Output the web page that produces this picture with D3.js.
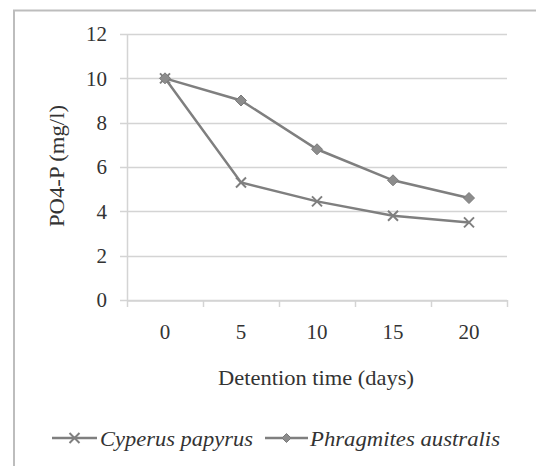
<!DOCTYPE html>
<html>
<head>
<meta charset="utf-8">
<script src="https://cdn.jsdelivr.net/npm/d3@7"></script>
<style>
  body { margin: 0; background: #fff; }
</style>
</head>
<body>
<svg width="536" height="466"></svg>
<script>
var days = ["0", "5", "10", "15", "20"];
var cyperus = [10, 5.3, 4.45, 3.8, 3.5];
var phragmites = [10, 9, 6.8, 5.4, 4.6];
var yTicks = [0, 2, 4, 6, 8, 10, 12];
var seriesNames = ["Cyperus papyrus", "Phragmites australis"];

var svg = d3.select("svg");
var lineColor = "#7f7f7f",
	gridColor = "#d4d4d4",
	textColor = "#333333",
	serif = "'Liberation Serif', 'Times New Roman', serif";

// outer frame (only left and top visible)
svg.append("path")
	.attr("d", "M14,470 L14,10.5 L540,10.5")
	.attr("fill", "none")
	.attr("stroke", "#bdbdbd")
	.attr("stroke-width", 2);

var x = d3.scaleBand().domain(days).range([127, 507]);
var y = d3.scaleLinear().domain([0, 12]).range([300, 34]);

// grid
svg.append("g").selectAll("line")
	.data(yTicks)
	.join("line")
	.attr("x1", 120).attr("x2", 507)
	.attr("y1", d => Math.round(y(d)) + 0.5)
	.attr("y2", d => Math.round(y(d)) + 0.5)
	.attr("stroke", gridColor)
	.attr("stroke-width", 1.5);

// y axis line
svg.append("line")
	.attr("x1", 127.5).attr("x2", 127.5)
	.attr("y1", 34).attr("y2", 300)
	.attr("stroke", gridColor).attr("stroke-width", 1.5);

// x axis
var xAxis = svg.append("g")
	.attr("transform", "translate(0,300.5)")
	.call(d3.axisBottom(x).tickSize(0).tickPadding(24));
xAxis.attr("font-family", null).attr("font-size", null);
xAxis.select(".domain").attr("stroke", gridColor).attr("stroke-width", 1.5);
xAxis.selectAll("text")
	.style("font-family", serif)
	.style("font-size", "21px")
	.attr("fill", textColor);

var bounds = days.map(d => x(d)).concat([x(days[days.length - 1]) + x.bandwidth()]);
svg.append("g").selectAll("line")
	.data(bounds)
	.join("line")
	.attr("x1", d => Math.round(d) + 0.5).attr("x2", d => Math.round(d) + 0.5)
	.attr("y1", 300).attr("y2", 307)
	.attr("stroke", gridColor).attr("stroke-width", 1.5);

// y tick labels
svg.append("g").selectAll("text")
	.data(yTicks)
	.join("text")
	.attr("x", 107)
	.attr("y", d => y(d))
	.attr("dy", "0.35em")
	.attr("text-anchor", "end")
	.attr("fill", textColor)
	.style("font-family", serif)
	.style("font-size", "21px")
	.text(d => d);

// axis titles
svg.append("text")
	.attr("x", 316).attr("y", 385)
	.attr("text-anchor", "middle")
	.attr("fill", textColor)
	.attr("textLength", 196)
	.attr("lengthAdjust", "spacingAndGlyphs")
	.style("font-family", serif)
	.style("font-size", "22px")
	.text("Detention time (days)");

svg.append("text")
	.attr("transform", "translate(64,166) rotate(-90)")
	.attr("text-anchor", "middle")
	.attr("fill", textColor)
	.attr("textLength", 122)
	.attr("lengthAdjust", "spacingAndGlyphs")
	.style("font-family", serif)
	.style("font-size", "22px")
	.text("PO4-P (mg/l)");

var line = d3.line()
	.x((d, i) => x(days[i]) + x.bandwidth() / 2)
	.y(d => y(d));

function drawX(g, cx, cy, r) {
	g.append("path")
		.attr("d", "M" + (cx - r) + "," + (cy - r) + "L" + (cx + r) + "," + (cy + r) +
			"M" + (cx - r) + "," + (cy + r) + "L" + (cx + r) + "," + (cy - r))
		.attr("stroke", lineColor).attr("stroke-width", 2);
}
function drawDiamond(g, cx, cy, r) {
	g.append("path")
		.attr("d", "M" + cx + "," + (cy - r) + "L" + (cx + r) + "," + cy +
			"L" + cx + "," + (cy + r) + "L" + (cx - r) + "," + cy + "Z")
		.attr("fill", "#8c8c8c").attr("stroke", "#7a7a7a").attr("stroke-width", 1);
}

[cyperus, phragmites].forEach(function(vals, k) {
	var g = svg.append("g");
	g.append("path")
		.attr("d", line(vals))
		.attr("fill", "none")
		.attr("stroke", lineColor)
		.attr("stroke-width", 2.5);
	vals.forEach(function(v, i) {
		var cx = x(days[i]) + x.bandwidth() / 2, cy = y(v);
		if (k === 0) drawX(g, cx, cy, 5);
		else drawDiamond(g, cx, cy, 5.5);
	});
});

// legend
var legend = svg.append("g");
var legendItems = [
	{ x1: 52, x2: 97, tx: 100, tw: 153, marker: drawX, r: 5 },
	{ x1: 265, x2: 308, tx: 310, tw: 190, marker: drawDiamond, r: 4.5 }
];
legendItems.forEach(function(it, k) {
	legend.append("line")
		.attr("x1", it.x1).attr("x2", it.x2)
		.attr("y1", 438).attr("y2", 438)
		.attr("stroke", lineColor).attr("stroke-width", 2.5);
	it.marker(legend, (it.x1 + it.x2) / 2, 438, it.r);
	legend.append("text")
		.attr("x", it.tx).attr("y", 438)
		.attr("dy", "0.35em")
		.attr("fill", textColor)
		.attr("textLength", it.tw)
		.attr("lengthAdjust", "spacingAndGlyphs")
		.style("font-family", serif)
		.style("font-size", "22px")
		.style("font-style", "italic")
		.text(seriesNames[k]);
});
</script>
</body>
</html>
